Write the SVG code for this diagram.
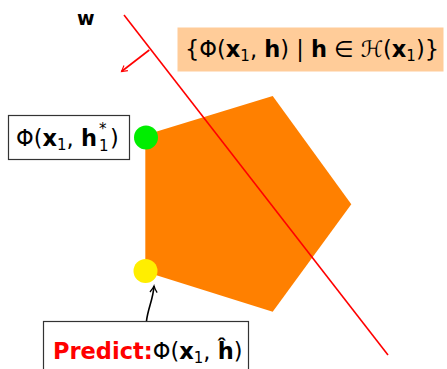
<svg xmlns="http://www.w3.org/2000/svg" width="447" height="369" viewBox="0 0 447 369">
<style>
.t{font-family:"DejaVu Sans","Liberation Sans",sans-serif;font-size:22.5px;fill:#000}
.b{font-weight:bold}
.s{font-size:15px}
.box{fill:#fff;stroke:#333;stroke-width:1.2}
</style>
<defs>
<marker id="ar" viewBox="0 0 10 10" refX="8" refY="5" markerWidth="8" markerHeight="8" orient="auto" markerUnits="userSpaceOnUse">
<path d="M1,1 L8,5 L1,9" fill="none" stroke="#f00" stroke-width="1.4"/>
</marker>
<marker id="ak" viewBox="0 0 10 10" refX="8" refY="5" markerWidth="9" markerHeight="9" orient="auto" markerUnits="userSpaceOnUse">
<path d="M1,1 Q5,4 8,5 Q5,6 1,9" fill="none" stroke="#000" stroke-width="1.4"/>
</marker>
</defs>
<g id="polytope">
<polygon points="145.3,135 272.7,96 351.3,204.3 272.7,311.7 145.3,271.7" fill="#ff8000"/>
</g>
<g id="hyperplane">
<line x1="124" y1="15" x2="388" y2="355" stroke="#f00" stroke-width="1.6"/>
<line x1="149.3" y1="50" x2="121.5" y2="71.5" stroke="#f00" stroke-width="1.6" marker-end="url(#ar)"/>
<text class="t b" x="77" y="25" style="font-size:19px">w</text>
</g>
<g id="setlabel">
<rect x="177.5" y="27.5" width="266" height="44" fill="#ffcc99"/>
<text class="t" x="185" y="57">{Φ(<tspan class="b">x</tspan><tspan class="s" dy="4">1</tspan><tspan dy="-4">, </tspan><tspan class="b">h</tspan>) | <tspan class="b">h</tspan> ∈ ℋ(<tspan class="b">x</tspan><tspan class="s" dy="4">1</tspan><tspan dy="-4">)}</tspan></text>
</g>
<g id="best">
<rect class="box" x="8.5" y="115.5" width="121" height="44"/>
<text class="t" x="16" y="146">Φ(<tspan class="b">x</tspan><tspan class="s" dy="4">1</tspan><tspan dy="-4">, </tspan><tspan class="b">h</tspan></text>
<text class="t s" x="99" y="134">*</text>
<text class="t s" x="99" y="151">1</text>
<text class="t" x="110" y="146">)</text>
<circle cx="146" cy="137.5" r="12" fill="#00ee00"/>
</g>
<g id="predict">
<circle cx="145.5" cy="271" r="12" fill="#ffee00"/>
<rect class="box" x="43.5" y="321.5" width="205" height="60"/>
<text class="t" x="53" y="359"><tspan class="b" fill="#f00">Predict:</tspan>Φ(<tspan class="b">x</tspan><tspan class="s" dy="4">1</tspan><tspan dy="-4">, </tspan><tspan class="b">ĥ</tspan>)</text>
</g>
<g id="connectors">
<path d="M146.5,321 C148,308 153,300 154,286" fill="none" stroke="#000" stroke-width="1.6" marker-end="url(#ak)"/>
</g>
</svg>
